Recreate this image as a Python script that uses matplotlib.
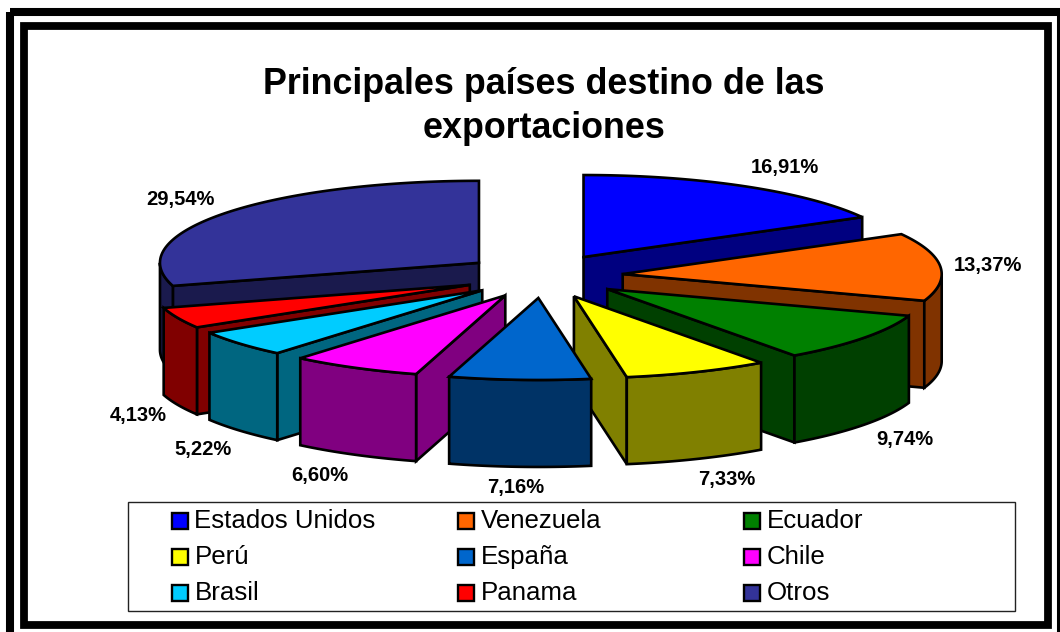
import numpy as np
import matplotlib
matplotlib.use("Agg")
import matplotlib.pyplot as plt
from matplotlib.patches import Polygon, Rectangle

plt.rcParams['font.family'] = ['Liberation Sans', 'DejaVu Sans']

paises = ["Estados Unidos", "Venezuela", "Ecuador", "Perú", "España", "Chile", "Brasil", "Panama", "Otros"]
valores = [16.91, 13.37, 9.74, 7.33, 7.16, 6.60, 5.22, 4.13, 29.54]
color_top = ["#0000FF", "#FF6600", "#008000", "#FFFF00", "#0066CC", "#FF00FF", "#00CCFF", "#FF0000", "#333399"]
color_side = ["#000080", "#803300", "#004000", "#808000", "#003366", "#800080", "#006680", "#800000", "#1A1A4D"]

# geometria del pastel 3D, en pixeles
CX, CY = 543, 276
RX, RY = 319, 82
EX, EY = 80, 22
DEPTH = 87
LW = 1.9

# centro de cada etiqueta de porcentaje
label_x = [785, 988, 905, 727, 516, 320, 203, 138, 180]
label_y = [168, 265, 440, 480, 488, 476, 450, 416, 199]

fig = plt.figure(figsize=(10.6, 6.32), dpi=100)
ax = fig.add_axes([0, 0, 1, 1])
ax.set_xlim(0, 1060)
ax.set_ylim(632, 0)
ax.axis("off")

# marcos dobles
ax.add_patch(Rectangle((10, 12), 1051, 640, fill=False, ec="black", lw=5.8))
ax.add_patch(Rectangle((24, 26), 1024, 598.5, fill=False, ec="black", lw=5.6))


def poly(pts, fc):
    ax.add_patch(Polygon(pts, closed=True, fc=fc, ec="black", lw=LW, joinstyle="miter"))


fracs = np.array(valores) / sum(valores)
ends = np.cumsum(fracs) * 2 * np.pi
starts = ends - fracs * 2 * np.pi
mids = (starts + ends) / 2

# del fondo hacia el frente
for i in np.argsort(-np.cos(mids)):
    a1, a2, m = starts[i], ends[i], mids[i]
    ox = CX + EX * np.sin(m)
    oy = CY - EY * np.cos(m)

    def rim(a):
        return np.column_stack([ox + RX * np.sin(a), oy - RY * np.cos(a)])

    down = np.array([0, DEPTH])
    apex = np.array([ox, oy])
    # caras radiales visibles
    for a, visible in ((a1, np.sin(a1) < 0), (a2, np.sin(a2) > 0)):
        if visible:
            p = rim(np.array([a]))[0]
            poly([apex, p, p + down, apex + down], color_side[i])
    # pared exterior
    lo, hi = max(a1, np.pi / 2), min(a2, 3 * np.pi / 2)
    if hi > lo:
        arc = rim(np.linspace(lo, hi, 80))
        poly(np.vstack([arc, arc[::-1] + down]), color_side[i])
    # cara superior
    poly(np.vstack([apex, rim(np.linspace(a1, a2, 120))]), color_top[i])

for v, x, y in zip(valores, label_x, label_y):
    ax.text(x, y, f"{v:.2f}%".replace(".", ","), ha="center", va="center",
            fontsize=14.5, fontweight="bold", color="black")

ax.text(544, 84, "Principales países destino de las", ha="center", va="center",
        fontsize=25.8, fontweight="bold")
ax.text(544, 128, "exportaciones", ha="center", va="center", fontsize=25.8, fontweight="bold")

# leyenda
ax.add_patch(Rectangle((128, 501.5), 887, 109, fc="white", ec="#222222", lw=1))
for k, nombre in enumerate(paises):
    col, fila = k % 3, k // 3
    x = 171.5 + 286 * col
    y = 520.5 + 36 * fila
    ax.add_patch(Rectangle((x, y - 8), 16.5, 16.5, fc=color_top[k], ec="black", lw=1.7))
    ax.text(x + 23, y + 0.5, nombre, ha="left", va="center", fontsize=18.6)

fig.savefig("out.png", dpi=100, facecolor="white")
